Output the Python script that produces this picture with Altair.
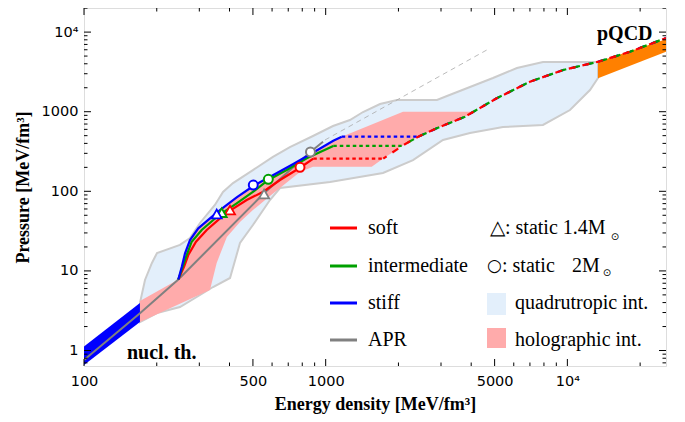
import altair as alt
import pandas as pd

# ---------------- axis ranges ----------------
E_MIN, E_MAX = 100, 25590
P_MIN, P_MAX = 0.639, 20080

# ---------------- quadrutropic interpolation band ----------------
QUAD_UP_E = [170.4, 178.8, 191, 200.5, 249.5, 274.5, 302, 348, 376, 413.5, 500, 605, 711, 886,
             1072, 1260, 1427, 1678, 1972, 2887, 3176, 3954, 4922, 6186, 7925, 13390]
QUAD_UP_P = [3.95, 7.7, 12.6, 16.8, 21.2, 25.9, 40, 67.3, 98, 127, 185, 270, 360, 495,
             661, 787, 991, 1250, 1403, 1403, 1575, 2043, 2650, 3540, 4210, 4210]
QUAD_LO_E = [13390, 12405, 10250, 7925, 5415, 3954, 3057, 2298, 1726, 1042, 647, 588, 500,
             442, 402, 342, 302, 249.5, 200.5, 170.4]
QUAD_LO_P = [2650, 1874, 1050, 681, 642, 540, 441, 247, 170, 131, 110, 77.8, 37.7,
             22.4, 8.15, 6.28, 4.98, 3.52, 2.96, 2.28]

# ---------------- holographic interpolation region ----------------
HOLO_E = [170.4, 245.6, 253.9, 261.8, 274.5, 297.1, 332, 365.3, 428.3, 501.6, 607.2, 734.5,
          866.9, 1075, 1165, 2089, 4066,
          3769, 2879, 2416, 2094, 1731, 1550, 886, 783, 711, 588, 500, 442, 390, 354, 332, 170.4]
HOLO_P = [4.19, 7.8, 11.29, 16.63, 24.44, 34.29, 45.8, 58.2, 84.1, 116.6, 160.3, 220.3,
          294.1, 432.3, 485, 1000, 1000,
          865, 619, 485, 380, 258, 204, 204, 175, 139, 87.3, 58.2, 41.2, 26.7, 12.6, 5.75, 2.28]

# ---------------- nuclear theory and pQCD bands ----------------
NUCL_E = [100, 170.4]
NUCL_LO = [0.66, 2.28]
NUCL_HI = [1.12, 3.95]
PQCD_E = [13390, 25590]
PQCD_LO = [2628, 5675]
PQCD_HI = [4250, 8120]

# ---------------- APR and causal-limit guide ----------------
APR_E = [100, 170.4, 245.6, 555.6, 867, 975]
APR_P = [0.76, 2.93, 7.8, 94.4, 314.5, 420]
GUIDE_E = [993, 4640]
GUIDE_P = [441, 5960]

# ---------------- interpolated EoS curves ----------------
SOFT_E = [245.6, 259.3, 270.1, 290.7, 322, 365.3, 402, 471.1, 551.9, 647, 783, 888.7]
SOFT_P = [7.8, 11.29, 15.84, 23.27, 32.65, 45.8, 57.1, 77.7, 98.9, 138.7, 197.9, 257]
INTER_E = [245.6, 256.1, 266.0, 279.0, 306.9, 342.7, 371.3, 428.3, 501.6, 579, 689.7, 834.6, 1075]
INTER_P = [7.8, 11.29, 15.84, 23.27, 32.65, 43.6, 52.9, 70.7, 98.9, 138.7, 185.2, 259.8, 372]
STIFF_E = [245.6, 253.9, 261.8, 274.5, 297.1, 332, 365.3, 428.3, 501.6, 607.2, 734.5, 866.9,
           1075, 1165]
STIFF_P = [7.8, 11.29, 16.63, 24.44, 34.29, 45.8, 58.2, 84.1, 116.6, 160.3, 220.3, 294.1,
           432.3, 485]

# first-order transition plateaus
SOFT_PL_E = [888.7, 1731]
SOFT_PL_P = [257, 257]
INTER_PL_E = [1075, 2063]
INTER_PL_P = [372, 372]
STIFF_PL_E = [1165, 2416]
STIFF_PL_P = [485, 485]

# dense-matter (holographic) branch
DENSE_E = [1731, 2094, 2416, 2879, 3769, 5099, 7000, 9616, 13420, 18160, 25590]
DENSE_P = [257, 380, 485, 619, 865, 1473, 2382, 3342, 4250, 5670, 8430]
INTER_DENSE_E = [2063] + DENSE_E[2:]
INTER_DENSE_P = [372] + DENSE_P[2:]
STIFF_DENSE_E = [2416] + DENSE_E[3:]
STIFF_DENSE_P = [485] + DENSE_P[3:]

# ---------------- static stars ----------------
MARK_EOS = ['soft', 'intermediate', 'stiff', 'APR']
TRI_E = [402, 371.3, 354, 556]
TRI_P = [58.2, 53.9, 51.9, 92.5]
CIR_E = [783, 579, 501.6, 865]
CIR_P = [200, 141.5, 120, 312]

EOS = ['soft', 'intermediate', 'stiff', 'APR']
COLORS = ['#ff0000', '#00a000', '#0000ff', '#808080']

# ---------------- tick values and labels ----------------
X_MAJOR = [100, 500, 1000, 5000, 10000]
X_MINOR = [200, 300, 400, 600, 700, 800, 900, 2000, 3000, 4000, 6000, 7000, 8000, 9000, 20000]
Y_MAJOR = [1, 10, 100, 1000, 10000]
Y_MINOR = [0.7, 0.8, 0.9, 2, 3, 4, 5, 6, 7, 8, 9, 20, 30, 40, 50, 60, 70, 80, 90,
           200, 300, 400, 500, 600, 700, 800, 900, 2000, 3000, 4000, 5000, 6000, 7000, 8000,
           9000, 20000]

# ---------------- styling ----------------
SERIF = 'Liberation Serif'
SANS = 'DejaVu Sans'
LIGHTBLUE = '#e3effb'
PINK = '#ffabab'
ORANGE = '#ff8000'
W, H = 582, 358

xs = alt.Scale(type='log', domain=[E_MIN, E_MAX], nice=False)
ys = alt.Scale(type='log', domain=[P_MIN, P_MAX], nice=False)
cscale = alt.Scale(domain=EOS, range=COLORS)

LABEL_EXPR = ("datum.value == 10000 ? '10⁴' : (indexof([1,10,100,500,1000,5000], datum.value) >= 0"
              " ? format(datum.value, 'd') : '')")

common_axis = dict(ticks=False, tickSize=0, domain=False, grid=False, labelFont=SANS,
                   labelFontSize=14.5, labelColor='black', labelFlush=False, labelOverlap=False,
                   labelExpr=LABEL_EXPR, titleFont=SERIF, titleFontWeight='bold',
                   titleFontSize=18, titleColor='black')
AX_X = alt.Axis(orient='bottom', values=X_MAJOR, labelPadding=8, titlePadding=7.5,
                title='Energy density [MeV/fm³]', **common_axis)
AX_Y = alt.Axis(orient='left', values=Y_MAJOR, labelPadding=6, titlePadding=8.5,
                title='Pressure [MeV/fm³]', **common_axis)


def xq(field):
    return alt.X(f'{field}:Q', scale=xs, axis=AX_X)


def yq(field):
    return alt.Y(f'{field}:Q', scale=ys, axis=AX_Y)


def poly_df(E, P):
    return pd.DataFrame({'E': E, 'P': P, 'i': range(len(E))})


quad_E = QUAD_UP_E + QUAD_LO_E + QUAD_UP_E[:1]
quad_P = QUAD_UP_P + QUAD_LO_P + QUAD_UP_P[:1]

quad = alt.Chart(poly_df(quad_E, quad_P)).mark_line(
    fill=LIGHTBLUE, stroke='#cccccc', strokeWidth=2, clip=True
).encode(x=xq('E'), y=yq('P'), order='i:Q')

holo = alt.Chart(poly_df(HOLO_E, HOLO_P)).mark_line(
    fill=PINK, strokeOpacity=0, clip=True
).encode(x=xq('E'), y=yq('P'), order='i:Q')

nucl = alt.Chart(pd.DataFrame({'E': NUCL_E, 'lo': NUCL_LO, 'hi': NUCL_HI})).mark_area(
    color='#0000ff', opacity=1, clip=True
).encode(x=xq('E'), y=yq('lo'), y2='hi:Q')

pqcd = alt.Chart(pd.DataFrame({'E': PQCD_E, 'lo': PQCD_LO, 'hi': PQCD_HI})).mark_area(
    color=ORANGE, opacity=1, clip=True
).encode(x=xq('E'), y=yq('lo'), y2='hi:Q')

apr = alt.Chart(pd.DataFrame({'E': APR_E, 'P': APR_P})).mark_line(
    color='#808080', strokeWidth=2, clip=True
).encode(x=xq('E'), y=yq('P'))

guide = alt.Chart(pd.DataFrame({'E': GUIDE_E, 'P': GUIDE_P})).mark_line(
    color='#aaaaaa', strokeWidth=0.8, strokeDash=[5, 4], clip=True
).encode(x=xq('E'), y=yq('P'))


def series_df(parts):
    rows = []
    for name, E, P in parts:
        for k, (e, p) in enumerate(zip(E, P)):
            rows.append({'eos': name, 'E': e, 'P': p, 'i': k})
    return pd.DataFrame(rows)


def line_layer(df, **mk):
    return alt.Chart(df).mark_line(clip=True, **mk).encode(
        x=xq('E'), y=yq('P'),
        color=alt.Color('eos:N', scale=cscale, legend=None),
        order='i:Q'
    )


plateaus = line_layer(series_df([
    ('soft', SOFT_PL_E, SOFT_PL_P),
    ('intermediate', INTER_PL_E, INTER_PL_P),
    ('stiff', STIFF_PL_E, STIFF_PL_P)]), strokeWidth=2.2, strokeDash=[3.5, 3])

dense_stiff = line_layer(series_df([('stiff', STIFF_DENSE_E, STIFF_DENSE_P)]),
                         strokeWidth=2.2, strokeDash=[7, 7], strokeDashOffset=0)
dense_inter = line_layer(series_df([('intermediate', INTER_DENSE_E, INTER_DENSE_P)]),
                         strokeWidth=2.2, strokeDash=[7, 7], strokeDashOffset=7)
dense_soft = line_layer(series_df([('soft', DENSE_E, DENSE_P)]),
                        strokeWidth=2.2, strokeDash=[7, 7], strokeDashOffset=3)

solid_layers = [
    line_layer(series_df([(name, E, P)]), strokeWidth=2.2)
    for name, E, P in [('soft', SOFT_E, SOFT_P), ('intermediate', INTER_E, INTER_P),
                       ('stiff', STIFF_E, STIFF_P)]
]

tri = alt.Chart(pd.DataFrame({'eos': MARK_EOS, 'E': TRI_E, 'P': TRI_P})).mark_point(
    shape='triangle-up', size=100, strokeWidth=1.8, opacity=1, fillOpacity=1, filled=True
).encode(
    x=xq('E'), y=yq('P'),
    stroke=alt.Stroke('eos:N', scale=cscale, legend=None),
    fill=alt.value('white')
)

cir = alt.Chart(pd.DataFrame({'eos': MARK_EOS, 'E': CIR_E, 'P': CIR_P})).mark_point(
    shape='circle', size=80, strokeWidth=2, opacity=1, fillOpacity=1, filled=True
).encode(
    x=xq('E'), y=yq('P'),
    stroke=alt.Stroke('eos:N', scale=cscale, legend=None),
    fill=alt.value('white')
)

# ---------------- inward frame ticks ----------------
MAJ_LEN, MIN_LEN = 7, 3.5


def xticks(vals, length):
    d = pd.DataFrame({'v': vals})
    bottom = alt.Chart(d).mark_rule(color='black', strokeWidth=1).encode(
        x=xq('v'), y=alt.value(H), y2=alt.value(H - length))
    top = alt.Chart(d).mark_rule(color='black', strokeWidth=1).encode(
        x=xq('v'), y=alt.value(0), y2=alt.value(length))
    return [bottom, top]


def yticks(vals, length):
    d = pd.DataFrame({'v': vals})
    left = alt.Chart(d).mark_rule(color='black', strokeWidth=1).encode(
        y=yq('v'), x=alt.value(0), x2=alt.value(length))
    right = alt.Chart(d).mark_rule(color='black', strokeWidth=1).encode(
        y=yq('v'), x=alt.value(W), x2=alt.value(W - length))
    return [left, right]


tick_layers = (xticks(X_MAJOR, MAJ_LEN) + xticks(X_MINOR, MIN_LEN)
               + yticks(Y_MAJOR, MAJ_LEN) + yticks(Y_MINOR, MIN_LEN))

# ---------------- annotations and legend (pixel placement) ----------------
one = pd.DataFrame({'a': [0]})


def txt(s, x, y, size=20, bold=False, font=SERIF, baseline='middle', align='left'):
    return alt.Chart(one).mark_text(
        text=s, font=font, fontSize=size, fontWeight='bold' if bold else 'normal',
        color='black', align=align, baseline=baseline
    ).encode(x=alt.value(x), y=alt.value(y))


annots = [
    txt('nucl. th.', 43, 351, bold=True, baseline='alphabetic'),
    txt('pQCD', 513, 32, bold=True, baseline='alphabetic'),
]

LEG_Y = [220, 258, 295, 332]
legend = []
for name, col, ly in zip(EOS, COLORS, LEG_Y):
    legend.append(alt.Chart(one).mark_rule(color=col, strokeWidth=3).encode(
        x=alt.value(246), x2=alt.value(273), y=alt.value(ly)))
    legend.append(txt(name, 284, ly))

legend += [
    txt('△: static 1.4M', 406, LEG_Y[0]),
    txt('⊙', 531, LEG_Y[0] + 9, size=10, font=SANS, align='center'),
    txt('○', 403, LEG_Y[1], size=17, font=SANS),
    txt(': static', 418, LEG_Y[1]),
    txt('2M', 488, LEG_Y[1]),
    txt('⊙', 523, LEG_Y[1] + 7, size=10, font=SANS, align='center'),
    alt.Chart(one).mark_rect(color=LIGHTBLUE).encode(
        x=alt.value(403), x2=alt.value(422), y=alt.value(285), y2=alt.value(307)),
    txt('quadrutropic int.', 431, LEG_Y[2]),
    alt.Chart(one).mark_rect(color=PINK).encode(
        x=alt.value(403), x2=alt.value(422), y=alt.value(320), y2=alt.value(340)),
    txt('holographic int.', 431, LEG_Y[3]),
]

chart = alt.layer(
    quad, holo, nucl, pqcd, apr, guide, plateaus, dense_stiff, dense_inter, dense_soft,
    *solid_layers, tri, cir, *tick_layers, *annots, *legend
).properties(
    width=W, height=H,
    padding={'left': 76, 'top': 0, 'right': 11, 'bottom': 48},
    autosize=alt.AutoSizeParams(type='none')
).configure_view(
    stroke='black', strokeWidth=1.2
).configure(background='white')

chart.save('out.html', embed_options={'renderer': 'svg', 'actions': False})
